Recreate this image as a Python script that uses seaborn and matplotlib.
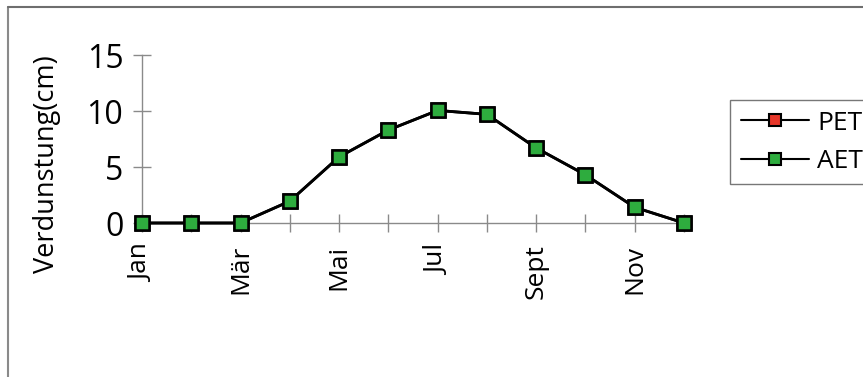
import matplotlib
matplotlib.use("Agg")
import matplotlib.pyplot as plt
import seaborn as sns
import pandas as pd
from matplotlib.lines import Line2D

months = ["Jan", "Feb", "Mär", "Apr", "Mai", "Jun", "Jul", "Aug", "Sept", "Okt", "Nov", "Dez"]
shown_labels = ["Jan", "", "Mär", "", "Mai", "", "Jul", "", "Sept", "", "Nov", ""]
pet = [0, 0, 0, 1.95, 5.9, 8.3, 10.05, 9.7, 6.7, 4.3, 1.4, 0]
aet = [0, 0, 0, 1.95, 5.9, 8.3, 10.05, 9.7, 6.7, 4.3, 1.4, 0]
y_ticks = [0, 5, 10, 15]

df = pd.DataFrame({
    "idx": list(range(len(months))) * 2,
    "value": pet + aet,
    "series": ["PET"] * len(months) + ["AET"] * len(months),
})

sns.set_theme(style="white")
plt.rcParams["font.family"] = ["Open Sans", "DejaVu Sans"]
plt.rcParams["text.color"] = "black"
plt.rcParams["axes.labelcolor"] = "black"
plt.rcParams["xtick.color"] = "black"
plt.rcParams["ytick.color"] = "black"

fig = plt.figure(figsize=(8.63, 3.77), dpi=100)
ax = fig.add_axes([142 / 863, 154 / 377, 542 / 863, 168 / 377])

colors = {"PET": "#e8372a", "AET": "#2eac3e"}
for name in ["PET", "AET"]:
    sub = df[df["series"] == name]
    sns.lineplot(data=sub, x="idx", y="value", ax=ax, color="black", lw=2,
                 marker="s", markersize=9.5, markerfacecolor=colors[name],
                 markeredgecolor="black", markeredgewidth=1.8,
                 legend=False, clip_on=False, zorder=3)

ax.set_xlim(0, 11)
ax.set_ylim(0, 15)
ax.set_xticks(range(len(months)))
ax.set_xticklabels(shown_labels, rotation=90, fontsize=19)
ax.set_yticks(y_ticks)
ax.set_yticklabels([str(t) for t in y_ticks], fontsize=23)
ax.set_xlabel("")
ax.set_ylabel("Verdunstung(cm)", fontsize=19.5)
ax.yaxis.set_label_coords(-0.15, 0.35)

for side in ["top", "right"]:
    ax.spines[side].set_visible(False)
for side in ["left", "bottom"]:
    ax.spines[side].set_color("#8a8a8a")
    ax.spines[side].set_linewidth(1.0)
ax.tick_params(axis="y", left=True, direction="inout", length=13, width=1,
               color="#8a8a8a", labelcolor="black", pad=7)
ax.tick_params(axis="x", bottom=True, direction="inout", length=13, width=1,
               color="#8a8a8a", labelcolor="black", pad=9)
ax.patch.set_alpha(0)

handles = [Line2D([0], [0], color="black", lw=1.5, marker="s", markersize=9,
                  markerfacecolor=colors[n], markeredgecolor="black",
                  markeredgewidth=1.5) for n in ["PET", "AET"]]
leg = fig.legend(handles, ["PET", "AET"], loc="upper left",
                 bbox_to_anchor=(730 / 863, 1 - 100 / 377), fontsize=19,
                 frameon=True, fancybox=False, handlelength=2.6,
                 handletextpad=0.3, labelspacing=0.5, borderpad=0.4,
                 borderaxespad=0)
leg.get_frame().set_edgecolor("#555555")
leg.get_frame().set_linewidth(1.0)

# outer chart border
fig.add_artist(Line2D([8 / 863, 8 / 863], [0, 1 - 7 / 377], transform=fig.transFigure,
                      color="#8a8a8a", lw=1.5))
fig.add_artist(Line2D([8 / 863, 1], [1 - 7 / 377, 1 - 7 / 377], transform=fig.transFigure,
                      color="#6e6e6e", lw=1.5))

fig.savefig("out.png", dpi=100)
